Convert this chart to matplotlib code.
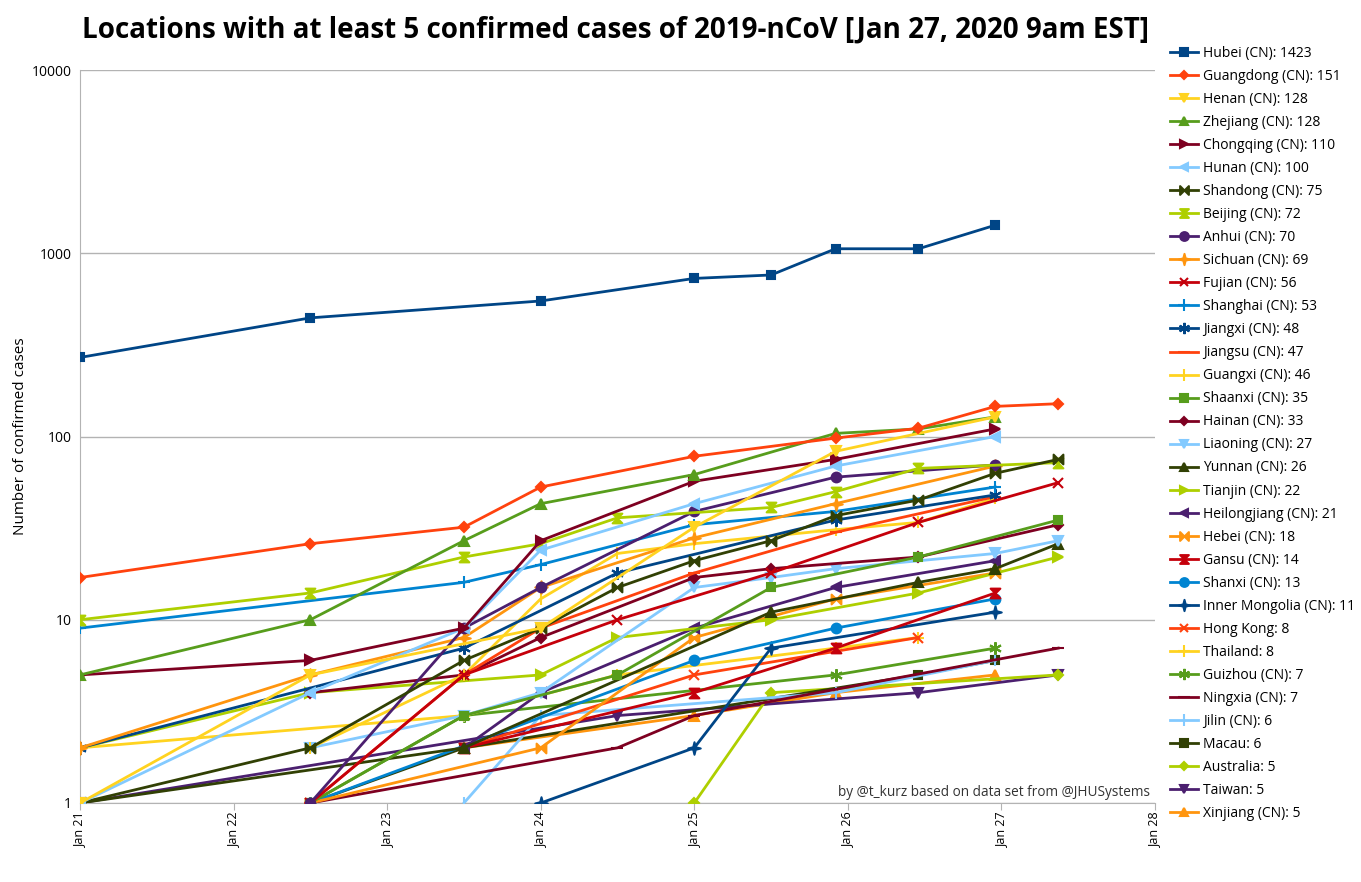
import matplotlib
matplotlib.use("Agg")
import matplotlib.pyplot as plt
from matplotlib.path import Path
import numpy as np

plt.rcParams['font.family'] = ['Open Sans', 'DejaVu Sans']

# time points (days after Jan 21, 00:00) of the data snapshots
time_points = [0.0, 1.5, 2.5, 3.0, 3.5, 4.0, 4.5, 4.92, 5.46, 5.96, 6.37]
date_labels = ["Jan 21", "Jan 22", "Jan 23", "Jan 24", "Jan 25", "Jan 26", "Jan 27", "Jan 28"]

N = None
locations = ["Hubei (CN)", "Guangdong (CN)", "Henan (CN)", "Zhejiang (CN)", "Chongqing (CN)",
             "Hunan (CN)", "Shandong (CN)", "Beijing (CN)", "Anhui (CN)", "Sichuan (CN)",
             "Fujian (CN)", "Shanghai (CN)", "Jiangxi (CN)", "Jiangsu (CN)", "Guangxi (CN)",
             "Shaanxi (CN)", "Hainan (CN)", "Liaoning (CN)", "Yunnan (CN)", "Tianjin (CN)",
             "Heilongjiang (CN)", "Hebei (CN)", "Gansu (CN)", "Shanxi (CN)", "Inner Mongolia (CN)",
             "Hong Kong", "Thailand", "Guizhou (CN)", "Ningxia (CN)", "Jilin (CN)",
             "Macau", "Australia", "Taiwan", "Xinjiang (CN)"]
totals = [1423, 151, 128, 128, 110, 100, 75, 72, 70, 69, 56, 53, 48, 47, 46, 35, 33, 27, 26, 22,
          21, 18, 14, 13, 11, 8, 8, 7, 7, 6, 6, 5, 5, 5]

hubei        = [270, 444, N, 549, N, 729, 761, 1058, 1058, 1423, N]
guangdong    = [17, 26, 32, 53, N, 78, N, 98, 111, 146, 151]
henan        = [1, 5, N, 9, N, 32, N, 83, N, 128, N]
zhejiang     = [5, 10, 27, 43, N, 62, N, 104, 110, 128, N]
chongqing    = [5, 6, 9, 27, N, 57, N, 75, N, 110, N]
hunan        = [1, 4, 9, 24, N, 43, N, 69, N, 100, N]
shandong     = [1, 2, 6, 9, 15, 21, 27, 37, 45, 63, 75]
beijing      = [10, 14, 22, 26, 36, N, 41, 50, 67, N, 72]
anhui        = [N, 1, 9, 15, N, 39, N, 60, N, 70, N]
sichuan      = [2, 5, 8, 15, N, 28, N, 43, N, 69, N]
fujian       = [N, 1, 5, N, 10, N, 18, N, 34, N, 56]
shanghai     = [9, N, 16, 20, N, 33, N, 39, N, 53, N]
jiangxi      = [2, N, 7, N, 18, N, N, 35, N, 48, N]
jiangsu      = [N, 1, 5, 9, N, 18, N, 30, N, 47, N]
guangxi      = [N, 2, 5, 13, 23, 26, N, 31, 34, 46, N]
shaanxi      = [N, 1, 3, N, 5, N, 15, N, 22, N, 35]
hainan       = [N, 4, 5, 8, N, 17, 19, N, 22, N, 33]
liaoning     = [N, 2, 3, 4, N, 15, 17, 19, N, 23, 27]
yunnan       = [1, N, 2, N, N, N, 11, N, 16, 19, 26]
tianjin      = [2, 4, N, 5, 8, N, 10, N, 14, N, 22]
heilongjiang = [N, N, 2, 4, N, 9, N, 15, N, 21, N]
hebei        = [N, 1, N, 2, N, 8, N, 13, N, 18, N]
gansu        = [N, N, 2, N, N, 4, N, 7, N, 14, N]
shanxi       = [N, 1, N, N, N, 6, N, 9, N, 13, N]
inner_mong   = [N, N, N, 1, N, 2, 7, N, N, 11, N]
hong_kong    = [N, N, 2, N, N, 5, N, N, 8, N, N]
thailand     = [2, N, 3, N, 5, N, N, 7, 8, N, N]
guizhou      = [N, 1, 3, N, N, N, N, 5, N, 7, N]
ningxia      = [N, 1, N, N, 2, 3, N, N, N, N, 7]
jilin        = [N, N, 1, 3, N, N, N, 4, N, 6, N]
macau        = [N, 1, 2, N, N, N, N, N, 5, 6, N]
australia    = [N, N, N, N, N, 1, 4, N, N, N, 5]
taiwan       = [1, N, N, N, 3, N, N, N, 4, N, 5]
xinjiang     = [N, N, 2, N, N, 3, N, 4, N, 5, N]

series = [hubei, guangdong, henan, zhejiang, chongqing, hunan, shandong, beijing, anhui, sichuan,
          fujian, shanghai, jiangxi, jiangsu, guangxi, shaanxi, hainan, liaoning, yunnan, tianjin,
          heilongjiang, hebei, gansu, shanxi, inner_mong, hong_kong, thailand, guizhou, ningxia,
          jilin, macau, australia, taiwan, xinjiang]

palette = ["#004586", "#ff420e", "#ffd320", "#579d1c", "#7e0021", "#83caff",
           "#314004", "#aecf00", "#4b1f6f", "#ff950e", "#c5000b", "#0084d1"]

bowtie = Path([(-1, -1), (0, 0), (-1, 1), (-1, -1), (1, -1), (0, 0), (1, 1), (1, -1)],
              [Path.MOVETO, Path.LINETO, Path.LINETO, Path.CLOSEPOLY,
               Path.MOVETO, Path.LINETO, Path.LINETO, Path.CLOSEPOLY])
hourglass = Path([(-1, 1), (0, 0), (1, 1), (-1, 1), (-1, -1), (0, 0), (1, -1), (-1, -1)],
                 [Path.MOVETO, Path.LINETO, Path.LINETO, Path.CLOSEPOLY,
                  Path.MOVETO, Path.LINETO, Path.LINETO, Path.CLOSEPOLY])
star4 = Path([(0, 1), (0.2, 0.2), (1, 0), (0.2, -0.2), (0, -1), (-0.2, -0.2), (-1, 0), (-0.2, 0.2), (0, 1)],
             [Path.MOVETO] + [Path.LINETO] * 7 + [Path.CLOSEPOLY])
marker_cycle = [('s', 6), ('D', 5), ('v', 7), ('^', 7), ('>', 7), ('<', 7), (bowtie, 7), (hourglass, 7),
                ('o', 7), (star4, 9), ('x', 7), ('+', 9), ((6, 2, 0), 9), ('_', 9), ('|', 9)]

fig = plt.figure(figsize=(13.61, 8.82), dpi=100)
ax = fig.add_axes([80 / 1361, 1 - 803 / 882, (1155 - 80) / 1361, (803 - 70) / 882])

handles = []
for i, vals in enumerate(series):
    xs = [t for t, v in zip(time_points, vals) if v is not None]
    ys = [v for v in vals if v is not None]
    color = palette[i % 12]
    mk, ms = marker_cycle[i % 15]
    h, = ax.plot(xs, ys, color=color, lw=2.0, marker=mk, markersize=ms,
                 markeredgecolor=color, markerfacecolor=color, markeredgewidth=1.5,
                 label=f"{locations[i]}: {totals[i]}", zorder=3 + (34 - i) * 0.01)
    handles.append(h)

ax.set_yscale('log')
ax.set_ylim(1, 10000)
ax.set_xlim(0, 7)
ax.set_yticks([1, 10, 100, 1000, 10000])
ax.set_yticklabels(["1", "10", "100", "1000", "10000"], fontsize=10)
ax.yaxis.set_minor_locator(matplotlib.ticker.NullLocator())
ax.set_xticks(range(8))
ax.set_xticklabels(date_labels, rotation=90, fontsize=9)
ax.tick_params(axis='y', length=0, pad=6)
ax.tick_params(axis='x', length=5, color='#b3b3b3', pad=2)
ax.grid(axis='y', color='#b3b3b3', lw=1)
ax.set_axisbelow(True)
for s in ['top', 'right']:
    ax.spines[s].set_visible(False)
for s in ['left', 'bottom']:
    ax.spines[s].set_color('#b3b3b3')
ax.set_ylabel("Number of confirmed cases", fontsize=11, labelpad=3)

ax.text(0.995, 0.004, "by @t_kurz based on data set from @JHUSystems", transform=ax.transAxes,
        ha='right', va='bottom', fontsize=9.8, color='#333333')

fig.suptitle("Locations with at least 5 confirmed cases of 2019-nCoV [Jan 27, 2020 9am EST]",
             x=616 / 1361, y=1 - 30 / 882, fontsize=20, fontweight='bold', va='center')

fig.legend(handles=handles, loc='upper left', bbox_to_anchor=(1170 / 1361, 1 - 46 / 882),
           frameon=False, fontsize=10, labelspacing=0.578, handlelength=2.0, handletextpad=0.35,
           borderpad=0, borderaxespad=0, markerscale=0.9)

fig.savefig("out.png", dpi=100)
